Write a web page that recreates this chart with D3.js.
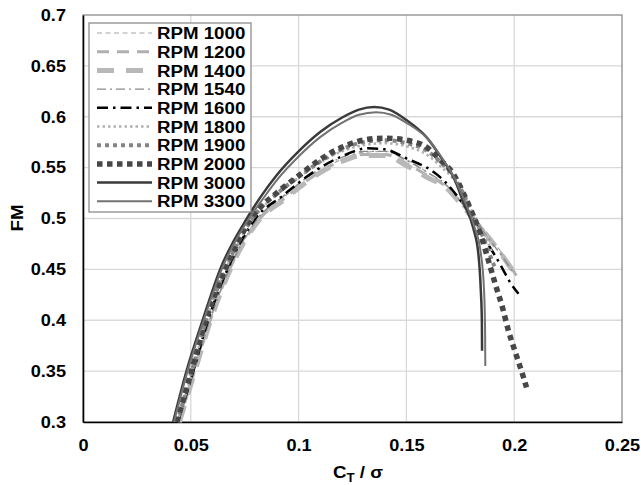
<!DOCTYPE html>
<html>
<head>
<meta charset="utf-8">
<script src="https://cdn.jsdelivr.net/npm/d3@7"></script>
<style>
  body { margin: 0; background: #fff; }
  text { font-family: "Liberation Sans", Arial, sans-serif; font-weight: bold; }
</style>
</head>
<body>
<div id="chart"></div>
<script>
// [C_T/sigma, FM] pairs
var rpm1000 = [[0.0442,0.30],[0.051,0.347],[0.059,0.40],[0.068,0.45],[0.0815,0.50],[0.093,0.521],[0.1,0.532],[0.11,0.547],[0.12,0.558],[0.13,0.565],[0.14,0.566],[0.15,0.558],[0.16,0.545],[0.168,0.533],[0.175,0.517],[0.182,0.499],[0.189,0.481],[0.195,0.464],[0.2005,0.447]];
var rpm1200 = [[0.0445,0.30],[0.051,0.345],[0.059,0.40],[0.068,0.45],[0.082,0.50],[0.093,0.519],[0.1,0.531],[0.11,0.546],[0.12,0.557],[0.13,0.563],[0.14,0.563],[0.15,0.554],[0.16,0.542],[0.168,0.532],[0.175,0.516],[0.182,0.498],[0.189,0.48],[0.195,0.463],[0.201,0.444]];
var rpm1400 = [[0.0447,0.30],[0.0512,0.345],[0.0592,0.40],[0.0683,0.45],[0.0823,0.50],[0.093,0.518],[0.1,0.530],[0.11,0.545],[0.12,0.556],[0.13,0.562],[0.14,0.562],[0.15,0.552],[0.16,0.54],[0.168,0.531],[0.175,0.515],[0.182,0.497],[0.189,0.479],[0.195,0.462],[0.2015,0.442]];
var rpm1540 = [[0.0443,0.30],[0.051,0.346],[0.0588,0.40],[0.0678,0.45],[0.081,0.50],[0.093,0.522],[0.1,0.534],[0.11,0.549],[0.12,0.56],[0.13,0.566],[0.14,0.566],[0.15,0.557],[0.16,0.545],[0.168,0.534],[0.175,0.517],[0.182,0.498],[0.189,0.478],[0.195,0.461],[0.2,0.445]];
var rpm1600 = [[0.044,0.30],[0.0505,0.345],[0.058,0.40],[0.067,0.45],[0.08,0.50],[0.093,0.523],[0.1,0.535],[0.11,0.55],[0.12,0.561],[0.132,0.569],[0.14,0.568],[0.15,0.559],[0.162,0.5466],[0.168,0.536],[0.175,0.518],[0.182,0.497],[0.188,0.474],[0.191,0.464],[0.1945,0.451],[0.198,0.4375],[0.202,0.426]];
var rpm1800 = [[0.0438,0.30],[0.0503,0.347],[0.0572,0.40],[0.0662,0.45],[0.079,0.50],[0.092,0.527],[0.1,0.54],[0.11,0.555],[0.12,0.566],[0.13,0.572],[0.14,0.574],[0.15,0.571],[0.16,0.562],[0.165,0.553],[0.172,0.538],[0.177,0.521],[0.181,0.505],[0.185,0.489],[0.19,0.466]];
var rpm1900 = [[0.0437,0.30],[0.0502,0.348],[0.0571,0.40],[0.066,0.45],[0.0785,0.50],[0.092,0.528],[0.1,0.541],[0.11,0.556],[0.12,0.568],[0.13,0.575],[0.14,0.577],[0.15,0.574],[0.16,0.566],[0.165,0.557],[0.172,0.541],[0.1765,0.524],[0.18,0.508],[0.184,0.49],[0.188,0.468],[0.191,0.452]];
var rpm2000 = [[0.0435,0.30],[0.05,0.348],[0.057,0.40],[0.066,0.45],[0.078,0.50],[0.0915,0.528],[0.1,0.542],[0.11,0.558],[0.12,0.570],[0.13,0.577],[0.14,0.579],[0.15,0.577],[0.16,0.569],[0.165,0.559],[0.172,0.543],[0.1764,0.525],[0.18,0.508],[0.1843,0.485],[0.188,0.459],[0.1913,0.435],[0.1945,0.413],[0.1973,0.39],[0.2006,0.368],[0.2043,0.344],[0.2057,0.334]];
var rpm3000 = [[0.0418,0.30],[0.048,0.35],[0.0555,0.40],[0.0636,0.45],[0.076,0.50],[0.082,0.52],[0.09,0.543],[0.1,0.566],[0.11,0.585],[0.12,0.599],[0.128,0.607],[0.135,0.6095],[0.142,0.607],[0.15,0.5967],[0.1597,0.579],[0.167,0.557],[0.172,0.540],[0.1764,0.516],[0.181,0.4906],[0.1834,0.465],[0.1845,0.43],[0.185,0.40],[0.1851,0.37]];
var rpm3300 = [[0.0422,0.30],[0.0485,0.35],[0.056,0.40],[0.0643,0.45],[0.077,0.50],[0.083,0.518],[0.09,0.538],[0.1,0.561],[0.11,0.58],[0.12,0.594],[0.128,0.602],[0.136,0.6045],[0.143,0.602],[0.15,0.594],[0.16,0.578],[0.167,0.558],[0.172,0.541],[0.1768,0.518],[0.1815,0.492],[0.1845,0.466],[0.186,0.43],[0.1865,0.39],[0.1866,0.355]];

var seriesNames = ["RPM 1000", "RPM 1200", "RPM 1400", "RPM 1540", "RPM 1600",
                   "RPM 1800", "RPM 1900", "RPM 2000", "RPM 3000", "RPM 3300"];
var seriesData = [rpm1000, rpm1200, rpm1400, rpm1540, rpm1600, rpm1800, rpm1900, rpm2000, rpm3000, rpm3300];
var xTicks = [0, 0.05, 0.1, 0.15, 0.2, 0.25];
var yTicks = [0.3, 0.35, 0.4, 0.45, 0.5, 0.55, 0.6, 0.65, 0.7];

// line styles, roughly like the excel ones
var styles = [
    { color: "#a6a6a6", width: 1.2, dash: "5,3.5" },
    { color: "#b0b0b0", width: 3, dash: "12,8" },
    { color: "#b8b8b8", width: 5, dash: "17,12" },
    { color: "#8a8a8a", width: 1.4, dash: "9,4,2,4" },
    { color: "#000000", width: 2.5, dash: "11,5,2.5,5" },
    { color: "#b0b0b0", width: 2.5, dash: "2.5,3" },
    { color: "#858585", width: 4, dash: "4,4" },
    { color: "#474747", width: 5.5, dash: "5.5,4.5" },
    { color: "#3a3a3a", width: 2.5, dash: null },
    { color: "#727272", width: 2, dash: null }
];

// the original text is a bit wider than Liberation Sans, stretch it a little
var stretch = " scale(1.1,1)";

var margin = { top: 15, right: 19, bottom: 63, left: 83 },
    width = 641 - margin.left - margin.right,
    height = 485 - margin.top - margin.bottom;

var xScale = d3.scaleLinear().domain([0, 0.25]).range([0, width]);
var yScale = d3.scaleLinear().domain([0.3, 0.7]).range([height, 0]);

var svg = d3.select("#chart").append("svg")
    .attr("width", 641)
    .attr("height", 485);

var g = svg.append("g").attr("transform", "translate(" + margin.left + "," + margin.top + ")");

// grid
g.append("g").selectAll("line").data(xTicks.slice(1, -1)).enter().append("line")
    .attr("x1", function (d) { return xScale(d); })
    .attr("x2", function (d) { return xScale(d); })
    .attr("y1", 0).attr("y2", height)
    .attr("stroke", "#d9d9d9").attr("stroke-width", 1.3);
g.append("g").selectAll("line").data(yTicks.slice(1, -1)).enter().append("line")
    .attr("y1", function (d) { return yScale(d); })
    .attr("y2", function (d) { return yScale(d); })
    .attr("x1", 0).attr("x2", width)
    .attr("stroke", "#d9d9d9").attr("stroke-width", 1.3);

// plot frame
g.append("rect").attr("width", width).attr("height", height)
    .attr("fill", "none").attr("stroke", "#8c8c8c").attr("stroke-width", 1.3);

var fmt = function (d) { return String(+d.toFixed(2)); };
var xAxis = d3.axisBottom(xScale).tickValues(xTicks).tickSize(0).tickPadding(17).tickFormat(fmt);
var yAxis = d3.axisLeft(yScale).tickValues(yTicks).tickSize(0).tickPadding(17).tickFormat(fmt);

var gx = g.append("g").attr("transform", "translate(0," + height + ")").call(xAxis);
var gy = g.append("g").call(yAxis);
[gx, gy].forEach(function (ax) {
    ax.select(".domain").attr("stroke", "#000").attr("stroke-width", 1.6);
    ax.selectAll("text").attr("font-size", 16.5).attr("fill", "#000")
        .style("font-family", '"Liberation Sans", Arial, sans-serif').style("font-weight", "bold");
});
gx.selectAll("text").attr("transform", "scale(1.1,1)");
gy.selectAll("text").attr("x", 0).attr("transform", "translate(-17,0)" + stretch);

// curves
var line = d3.line()
    .x(function (d) { return xScale(d[0]); })
    .y(function (d) { return yScale(d[1]); })
    .curve(d3.curveMonotoneX);

seriesData.forEach(function (data, i) {
    var s = styles[i];
    g.append("path")
        .datum(data)
        .attr("d", line)
        .attr("fill", "none")
        .attr("stroke", s.color)
        .attr("stroke-width", s.width)
        .attr("stroke-dasharray", s.dash);
});

// legend
var legend = svg.append("g").attr("transform", "translate(89,23)");
legend.append("rect").attr("width", 162).attr("height", 189)
    .attr("fill", "#fff").attr("stroke", "#8c8c8c").attr("stroke-width", 1.3);

seriesNames.forEach(function (name, i) {
    var yy = 10 + i * 18.7;
    var s = styles[i];
    legend.append("line")
        .attr("x1", 8).attr("x2", 63).attr("y1", yy).attr("y2", yy)
        .attr("stroke", s.color).attr("stroke-width", s.width)
        .attr("stroke-dasharray", s.dash);
    legend.append("text")
        .attr("transform", "translate(68," + yy + ")" + stretch)
        .attr("dy", "0.36em")
        .attr("font-size", 17).text(name);
});

// axis titles
var xt = svg.append("text")
    .attr("transform", "translate(358,478)" + stretch)
    .attr("text-anchor", "middle").attr("font-size", 17);
xt.append("tspan").text("C");
xt.append("tspan").attr("font-size", 12).attr("dy", 4).text("T");
xt.append("tspan").attr("dy", -4).text(" / σ");

svg.append("text")
    .attr("transform", "translate(23,218) rotate(-90)" + stretch)
    .attr("text-anchor", "middle").attr("font-size", 17)
    .text("FM");
</script>
</body>
</html>
